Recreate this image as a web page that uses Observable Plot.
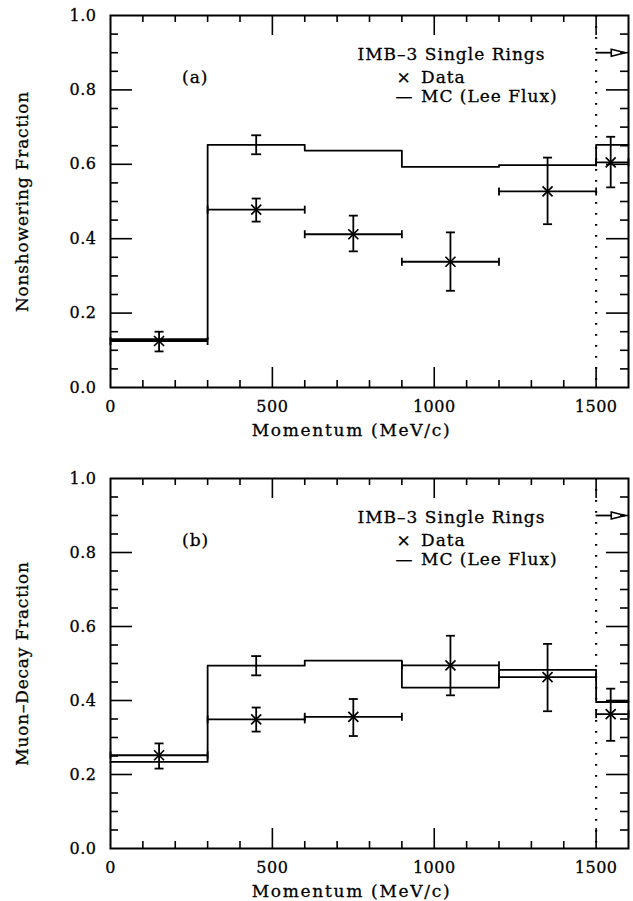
<!DOCTYPE html>
<html><head><meta charset="utf-8">
<script src="https://cdn.jsdelivr.net/npm/d3@7"></script>
<script src="https://cdn.jsdelivr.net/npm/@observablehq/plot@0.6"></script>
<style>
body{margin:0;background:#fff;}
#chart{width:633px;}
#chart svg{display:block;}
</style></head><body><div id="chart"></div>
<script>
// ---- data ----
const binLo = [0, 300, 600, 900, 1200, 1500];
const binHi = [300, 600, 900, 1200, 1500, 1600];
const dataX = [150, 450, 750, 1050, 1350, 1545];

// panel (a) nonshowering fraction
const fracA = [0.125, 0.478, 0.412, 0.338, 0.527, 0.605];
const errLoA = [0.097, 0.446, 0.366, 0.260, 0.439, 0.538];
const errHiA = [0.150, 0.508, 0.462, 0.417, 0.618, 0.674];
const mcA = [0.130, 0.652, 0.637, 0.593, 0.598, 0.652];
const mcErrA = [{x: 450, lo: 0.627, hi: 0.678}];

// panel (b) muon-decay fraction
const fracB = [0.252, 0.349, 0.356, 0.495, 0.463, 0.363];
const errLoB = [0.216, 0.316, 0.304, 0.414, 0.371, 0.291];
const errHiB = [0.284, 0.381, 0.404, 0.575, 0.553, 0.432];
const mcB = [0.234, 0.494, 0.508, 0.435, 0.483, 0.396];
const mcErrB = [{x: 450, lo: 0.468, hi: 0.520}];

// axes
const xTickLabels = [0, 500, 1000, 1500];
const xMajorTicks = [500, 1000, 1500];
const xMinorTicks = [100, 200, 300, 400, 600, 700, 800, 900, 1100, 1200, 1300, 1400];
const yTickLabels = [0, 0.2, 0.4, 0.6, 0.8, 1.0];
const yMajorTicks = [0.2, 0.4, 0.6, 0.8];
const yMinorTicks = [0.05, 0.1, 0.15, 0.25, 0.3, 0.35, 0.45, 0.5, 0.55, 0.65, 0.7, 0.75, 0.85, 0.9, 0.95];
const cutoff = [1500];
const overflowArrow = [{from: 1500, to: 1590, y: 0.9}];
const legendTitle = "IMB–3 Single Rings";
const legendData = "Data";
const legendMC = "MC (Lee Flux)";
const xLabel = "Momentum (MeV/c)";
const yLabelA = "Nonshowering Fraction";
const yLabelB = "Muon–Decay Fraction";

// ---- symbols ----
const sym = fn => ({draw(c) { fn(c); }});
const timesSym = sym(c => { c.moveTo(-5, -5); c.lineTo(5, 5); c.moveTo(-5, 5); c.lineTo(5, -5); });
const hCapData = sym(c => { c.moveTo(-4.5, 0); c.lineTo(4.5, 0); });
const hCapMC = sym(c => { c.moveTo(-5, 0); c.lineTo(5, 0); });
const vCap = sym(c => { c.moveTo(0, -4); c.lineTo(0, 4); });
const headSym = sym(c => { c.moveTo(-14, -3.5); c.lineTo(0, 0); c.lineTo(-14, 3.5); c.closePath(); });

const FONT = "DejaVu Serif";

function panel({height, marginTop, frac, lo, hi, mc, mcErr, yLabel, tag}) {
  const W = 633, ML = 110, MR = 5, MB = 53;
  const fw = W - ML - MR, fh = height - marginTop - MB;
  const pts = dataX.map((x, i) => ({x, y: frac[i], lo: lo[i], hi: hi[i], b0: binLo[i], b1: binHi[i]}));
  const step = binLo.map((x, i) => ({x, y: mc[i]})).concat([{x: binHi[binHi.length - 1], y: mc[mc.length - 1]}]);
  const hbarCaps = pts.flatMap(d => [{x: d.b0, y: d.y}, {x: d.b1, y: d.y}]);
  const vbarCaps = pts.flatMap(d => [{x: d.x, y: d.lo}, {x: d.x, y: d.hi}]);
  const mcCaps = mcErr.flatMap(d => [{x: d.x, y: d.lo}, {x: d.x, y: d.hi}]);
  const txt = (s, o) => Plot.text([s], {text: d => d, frameAnchor: "top-left", textAnchor: "start", lineAnchor: "middle", fontSize: 17, ...o});
  const svg = Plot.plot({
    width: W, height, marginLeft: ML, marginRight: MR, marginTop, marginBottom: MB,
    x: {domain: [0, 1600]},
    y: {domain: [0, 1]},
    style: {fontFamily: FONT, fontSize: "16px", color: "black", background: "white", overflow: "visible"},
    marks: [
      // dotted cutoff
      Plot.ruleX(cutoff, {x: d => d, stroke: "black", strokeWidth: 2.2, strokeDasharray: "1.8,9.2"}),
      // MC histogram
      Plot.line(step, {x: "x", y: "y", curve: "step-after", stroke: "black", strokeWidth: 1.8}),
      Plot.ruleX(mcErr, {x: "x", y1: "lo", y2: "hi", stroke: "black", strokeWidth: 1.8}),
      Plot.dot(mcCaps, {x: "x", y: "y", symbol: hCapMC, r: 3, fill: "none", stroke: "black", strokeWidth: 1.8}),
      // data error bars
      Plot.ruleY(pts, {y: "y", x1: "b0", x2: "b1", stroke: "black", strokeWidth: 1.8}),
      Plot.ruleX(pts, {x: "x", y1: "lo", y2: "hi", stroke: "black", strokeWidth: 1.8}),
      Plot.dot(hbarCaps, {x: "x", y: "y", symbol: vCap, r: 3, fill: "none", stroke: "black", strokeWidth: 1.8}),
      Plot.dot(vbarCaps, {x: "x", y: "y", symbol: hCapData, r: 3, fill: "none", stroke: "black", strokeWidth: 1.8}),
      Plot.dot(pts, {x: "x", y: "y", symbol: timesSym, r: 3, fill: "none", stroke: "black", strokeWidth: 1.7}),
      // overflow arrow
      Plot.ruleY(overflowArrow, {y: "y", x1: "from", x2: "to", stroke: "black", strokeWidth: 1.8}),
      Plot.dot(overflowArrow, {x: "to", y: "y", symbol: headSym, r: 3, fill: "white", stroke: "black", strokeWidth: 1.6}),
      // inward ticks
      Plot.tickX(xMajorTicks, {x: d => d, insetTop: fh - 20, strokeWidth: 1.6}),
      Plot.tickX(xMajorTicks, {x: d => d, insetBottom: fh - 20, strokeWidth: 1.6}),
      Plot.tickX(xMinorTicks, {x: d => d, insetTop: fh - 7, strokeWidth: 1.6}),
      Plot.tickX(xMinorTicks, {x: d => d, insetBottom: fh - 7, strokeWidth: 1.6}),
      Plot.tickY(yMajorTicks, {y: d => d, insetRight: fw - 22, strokeWidth: 1.6}),
      Plot.tickY(yMajorTicks, {y: d => d, insetLeft: fw - 22, strokeWidth: 1.6}),
      Plot.tickY(yMinorTicks, {y: d => d, insetRight: fw - 8, strokeWidth: 1.6}),
      Plot.tickY(yMinorTicks, {y: d => d, insetLeft: fw - 8, strokeWidth: 1.6}),
      Plot.frame({stroke: "black", strokeWidth: 2}),
      // axes
      Plot.axisX({ticks: xTickLabels, tickFormat: "d", tickSize: 0, tickPadding: 13, label: null, fontSize: 16}),
      Plot.axisY({ticks: yTickLabels, tickFormat: ".1f", tickSize: 0, tickPadding: 14, label: null, fontSize: 16}),
      Plot.text([xLabel], {text: d => d, frameAnchor: "bottom", lineAnchor: "middle", textAnchor: "middle", dx: -18, dy: 43, fontSize: 17}),
      Plot.text([yLabel], {text: d => d, frameAnchor: "left", textAnchor: "middle", lineAnchor: "middle", dx: -87.5, rotate: -90, fontSize: 17}),
      // legend
      txt(legendTitle, {dx: 247, dy: 39.5}),
      txt("×", {dx: 293, dy: 62, textAnchor: "middle"}),
      txt(legendData, {dx: 310.5, dy: 62}),
      txt("—", {dx: 293.5, dy: 81.5, textAnchor: "middle"}),
      txt(legendMC, {dx: 310.5, dy: 81.5}),
      txt(tag, {dx: 71.5, dy: 62})
    ]
  });
  // letter spacing & ink weight tuned to the reference typeface
  d3.select(svg).selectAll("text").each(function() {
    const t = this.textContent;
    let s = 0.5;
    if (t === xLabel) s = 1.7;
    else if (t === yLabelA || t === yLabelB) s = 0.8;
    else if ([legendTitle, legendData, legendMC, tag].includes(t)) s = 1;
    else if (t === "×" || t === "—") s = 0;
    d3.select(this).attr("letter-spacing", s + "px").attr("stroke", "black").attr("stroke-width", 0.3);
  });
  return svg;
}

const chart = document.getElementById("chart");
chart.append(panel({height: 440, marginTop: 15, frac: fracA, lo: errLoA, hi: errHiA, mc: mcA, mcErr: mcErrA, yLabel: yLabelA, tag: "(a)"}));
chart.append(panel({height: 461, marginTop: 38, frac: fracB, lo: errLoB, hi: errHiB, mc: mcB, mcErr: mcErrB, yLabel: yLabelB, tag: "(b)"}));
</script>
</body></html>
